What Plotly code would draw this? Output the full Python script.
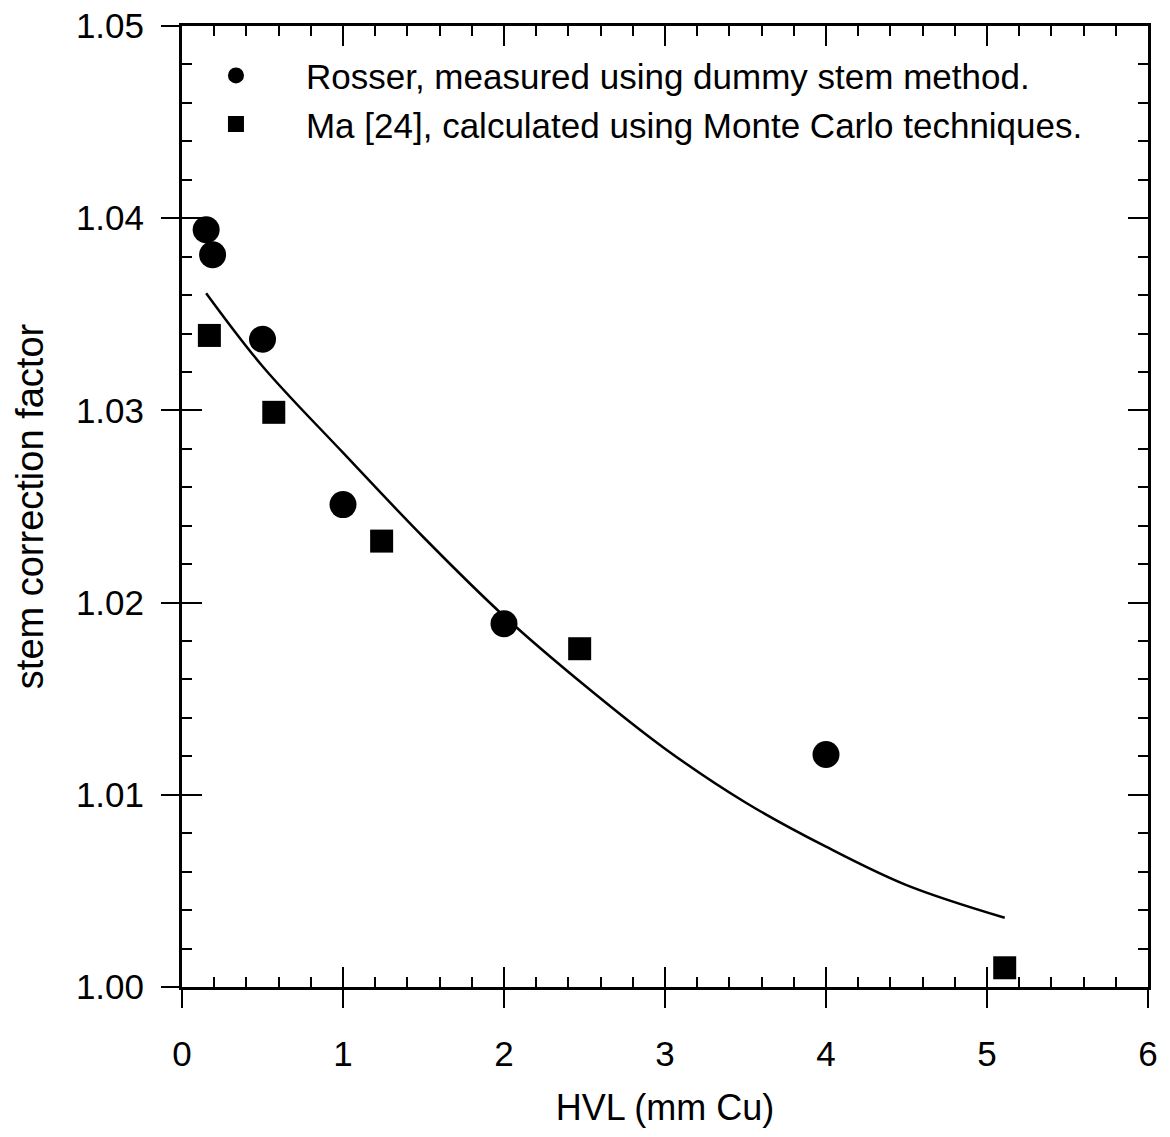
import plotly.graph_objects as go

# Rosser, measured using dummy stem method
rosser_hvl = [0.15, 0.19, 0.50, 1.00, 2.00, 4.00]
rosser_factor = [1.0394, 1.0381, 1.0337, 1.0251, 1.0189, 1.0121]

# Ma [24], Monte Carlo
ma_hvl = [0.17, 0.57, 1.24, 2.47, 5.11]
ma_factor = [1.0339, 1.0299, 1.0232, 1.0176, 1.0010]

# fitted curve
fit_hvl = [0.15, 0.5, 1.0, 1.5, 2.0, 2.5, 3.0, 3.5, 4.0, 4.5, 5.11]
fit_factor = [1.0361, 1.0323, 1.0278, 1.0234, 1.0193, 1.0157, 1.0124, 1.0096, 1.0073, 1.0053, 1.0036]

x_ticks = [0, 1, 2, 3, 4, 5, 6]
y_ticks = [1.00, 1.01, 1.02, 1.03, 1.04, 1.05]

FONT = "Liberation Sans, Arial, Helvetica, sans-serif"

fig = go.Figure()
fig.add_trace(go.Scatter(x=fit_hvl, y=fit_factor, mode="lines",
                         line=dict(color="black", width=2.5, shape="spline"),
                         showlegend=False, xaxis="x2", yaxis="y2", hoverinfo="skip"))
fig.add_trace(go.Scatter(x=rosser_hvl, y=rosser_factor, mode="markers",
                         name="Rosser, measured using dummy stem method.",
                         marker=dict(symbol="circle", size=27, color="black")))
fig.add_trace(go.Scatter(x=ma_hvl, y=ma_factor, mode="markers",
                         name="Ma [24], calculated using Monte Carlo techniques.",
                         marker=dict(symbol="square", size=23, color="black")))

common_x = dict(range=[0, 6], showgrid=False, zeroline=False, automargin=False)
common_y = dict(range=[1.00, 1.05], showgrid=False, zeroline=False, automargin=False)

fig.update_layout(
    width=1170, height=1137,
    margin=dict(l=182, r=22, t=26, b=150, autoexpand=False),
    paper_bgcolor="white", plot_bgcolor="white",
    font=dict(family=FONT, color="black", size=34),
    xaxis=dict(**common_x, showline=True, linecolor="black", linewidth=2.5,
               mirror="ticks", ticks="inside", ticklen=20, tickwidth=2, tickcolor="black",
               tickvals=x_ticks, showticklabels=False,
               minor=dict(dtick=0.2, ticks="inside", ticklen=10, tickwidth=2, tickcolor="black")),
    yaxis=dict(**common_y, showline=True, linecolor="black", linewidth=2.5,
               mirror="ticks", ticks="inside", ticklen=20, tickwidth=2, tickcolor="black",
               tickvals=y_ticks, showticklabels=False,
               minor=dict(dtick=0.002, ticks="inside", ticklen=10, tickwidth=2, tickcolor="black")),
    xaxis2=dict(**common_x, overlaying="x", anchor="y2", side="bottom", showline=False,
                ticks="outside", ticklen=20, tickwidth=2, tickcolor="black",
                tickvals=x_ticks, ticktext=[str(v) for v in x_ticks],
                tickfont=dict(size=35), ticklabelstandoff=16,
                title=dict(text="HVL (mm Cu)", font=dict(size=36), standoff=22)),
    yaxis2=dict(**common_y, overlaying="y", anchor="x2", side="left", showline=False,
                ticks="outside", ticklen=20, tickwidth=2, tickcolor="black",
                tickvals=y_ticks, tickformat=".2f",
                tickfont=dict(size=35), ticklabelstandoff=10,
                title=dict(text="stem correction factor", font=dict(size=38), standoff=20)),
    legend=dict(x=-0.0166, y=0.979, xanchor="left", yanchor="top",
                bgcolor="rgba(0,0,0,0)", borderwidth=0,
                font=dict(size=35), itemwidth=130, tracegroupgap=0,
                itemsizing="trace"),
    showlegend=True,
)

fig.write_html("out.html")
